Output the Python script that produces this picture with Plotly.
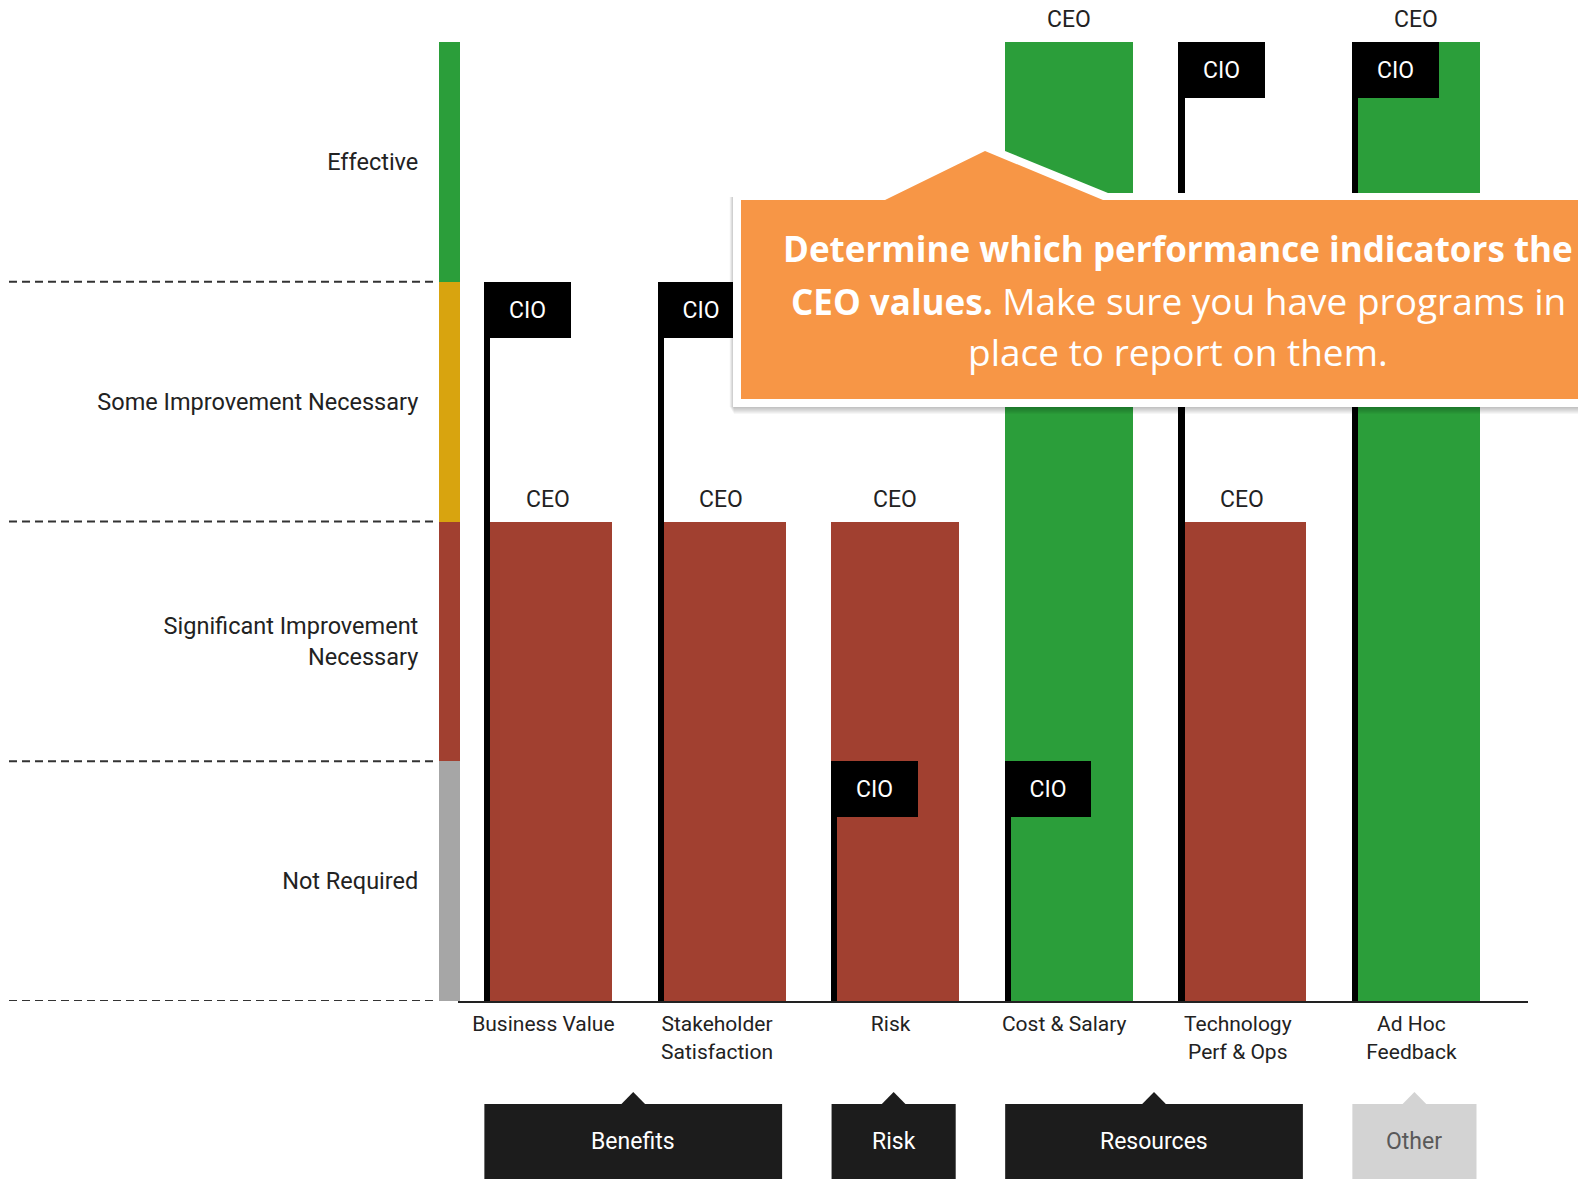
import plotly.graph_objects as go

# ---------------- data ----------------
categories = ["Business Value", "Stakeholder<br>Satisfaction", "Risk", "Cost & Salary",
              "Technology<br>Perf & Ops", "Ad Hoc<br>Feedback"]
ceo_values = [2, 2, 2, 4, 2, 4]
cio_values = [3, 3, 1, 1, 4, 4]

levels = ["Not Required", "Significant Improvement<br>Necessary",
          "Some Improvement Necessary", "Effective"]
level_colors = ["#A6A6A6", "#A14030", "#D8A40F", "#2B9E3A"]

groups = ["Benefits", "Risk", "Resources", "Other"]
group_first = [0, 2, 3, 5]
group_last = [1, 2, 4, 5]
group_fill = ["#1C1C1C", "#1C1C1C", "#1C1C1C", "#D3D3D3"]
group_font = ["#FFFFFF", "#FFFFFF", "#FFFFFF", "#595959"]

callout_lines = [
    "<b><span style='font-size:35px'>Determine which performance indicators the</span></b>",
    "<b><span style='font-size:35px'>CEO values.</span></b> Make sure you have programs in",
    "place to report on them.",
]

# ---------------- geometry ----------------
W, H = 1578, 1179
PL, PR, PT, PB = 460, 1528, 42, 1001


def pxx(px):
    return px / W


def pxy(py):
    return (PB - py) / (PB - PT)


x = list(range(len(categories)))
flag_h = 56 / ((PB - PT) / 4)

fig = go.Figure()

# level band on the left
fig.add_trace(go.Bar(
    x=[0.5] * len(levels), y=[1] * len(levels), base=list(range(len(levels))),
    width=1, xaxis="x2", yaxis="y", marker=dict(color=level_colors, line=dict(width=0)),
    hoverinfo="skip"))

# CEO bars
fig.add_trace(go.Bar(
    x=x, y=ceo_values, width=0.737, offset=-0.342,
    marker=dict(color=[level_colors[v - 1] for v in ceo_values], line=dict(width=0)),
    hoverinfo="skip"))

# CIO flag poles
fig.add_trace(go.Bar(
    x=x, y=cio_values, width=0.035, offset=-0.342,
    marker=dict(color="#000000", line=dict(width=0)), hoverinfo="skip"))

# CIO flags
fig.add_trace(go.Bar(
    x=x, y=[flag_h] * len(x), base=[v - flag_h for v in cio_values],
    width=0.499, offset=-0.342,
    marker=dict(color="#000000", line=dict(width=0)),
    text=["CIO"] * len(x), textposition="inside", insidetextanchor="middle",
    textangle=0, constraintext="none",
    textfont=dict(color="#FFFFFF", size=23, family="Roboto"), hoverinfo="skip"))

annotations = []
# CEO labels
for i, v in enumerate(ceo_values):
    annotations.append(dict(
        x=i + 0.025, y=v, xref="x", yref="y", text="CEO", showarrow=False,
        yanchor="bottom", yshift=7, font=dict(size=23, color="#222222", family="Roboto")))

shapes = []
# dashed level boundaries
for b in range(len(levels)):
    shapes.append(dict(type="line", xref="paper", yref="y", x0=pxx(9), x1=pxx(436),
                       y0=b, y1=b, line=dict(color="#333333", width=2, dash="8px,5px")))

# group boxes
yb_top = pxy(1104)
yb_bot = pxy(1190)
y_apex = pxy(1092)
for g, f, l, fc, tc in zip(groups, group_first, group_last, group_fill, group_font):
    x0 = f - 0.34
    x1 = l + 0.375
    xc = (x0 + x1) / 2
    shapes.append(dict(type="rect", xref="x", yref="paper", x0=x0, x1=x1, y0=yb_bot, y1=yb_top,
                       fillcolor=fc, line=dict(width=0), layer="above"))
    shapes.append(dict(type="path", xref="x", yref="paper",
                       path=f"M {xc-0.068},{yb_top} L {xc},{y_apex} L {xc+0.068},{yb_top} Z",
                       fillcolor=fc, line=dict(width=0)))
    annotations.append(dict(x=xc, y=pxy(1141.5), xref="x", yref="paper", text=g,
                            showarrow=False, xanchor="center", yanchor="middle",
                            font=dict(size=23, color=tc, family="Roboto")))

# callout
def poly(pts):
    return "M " + " L ".join(f"{pxx(a)},{pxy(b)}" for a, b in pts) + " Z"

for k in range(1, 9):
    shapes.append(dict(type="rect", xref="paper", yref="paper",
                       x0=pxx(729 + k * 0.6), x1=pxx(1620),
                       y0=pxy(406 + k), y1=pxy(197),
                       fillcolor="rgba(0,0,0,0.035)", line=dict(width=0)))
shapes.append(dict(type="path", xref="paper", yref="paper",
                   path=poly([(733, 193), (880, 193), (984, 142.5), (1108, 193), (1620, 193),
                              (1620, 407), (733, 407)]),
                   fillcolor="#FFFFFF", line=dict(width=0)))
shapes.append(dict(type="path", xref="paper", yref="paper",
                   path=poly([(741, 200), (885, 200), (985, 151), (1103, 200), (1620, 200),
                              (1620, 399), (741, 399)]),
                   fillcolor="#F79646", line=dict(width=0)))

for txt, cy in zip(callout_lines, [249, 300, 351]):
    annotations.append(dict(x=pxx(1178), y=pxy(cy), xref="paper", yref="paper", text=txt,
                            showarrow=False, xanchor="center", yanchor="middle",
                            font=dict(size=37, color="#FFFFFF", family="Open Sans")))

fig.update_layout(
    width=W, height=H, margin=dict(l=0, r=0, t=PT, b=H - PB, pad=0),
    paper_bgcolor="#FFFFFF", plot_bgcolor="#FFFFFF",
    barmode="overlay", bargap=0, showlegend=False, hovermode=False,
    font=dict(family="Roboto", color="#222222"),
    xaxis=dict(domain=[pxx(PL), pxx(PR)], range=[-0.4804, 5.6717], tickvals=x,
               ticktext=categories, showgrid=False, zeroline=False, showline=True,
               linecolor="#222222", linewidth=2, ticks="", ticklabelstandoff=3,
               tickfont=dict(size=21, color="#222222", family="Roboto")),
    xaxis2=dict(domain=[pxx(439), pxx(PL)], range=[0, 1], anchor="y", visible=False),
    yaxis=dict(range=[0, 4], tickvals=[0.5, 1.5, 2.5, 3.5], ticktext=levels,
               showgrid=False, zeroline=False, showline=True, linecolor="#222222",
               linewidth=2, ticks="", ticklabelstandoff=35,
               tickfont=dict(size=23.5, color="#222222", family="Roboto")),
    shapes=shapes, annotations=annotations,
)

for tr in fig.data:
    tr.cliponaxis = False

fig.write_html("out.html")
